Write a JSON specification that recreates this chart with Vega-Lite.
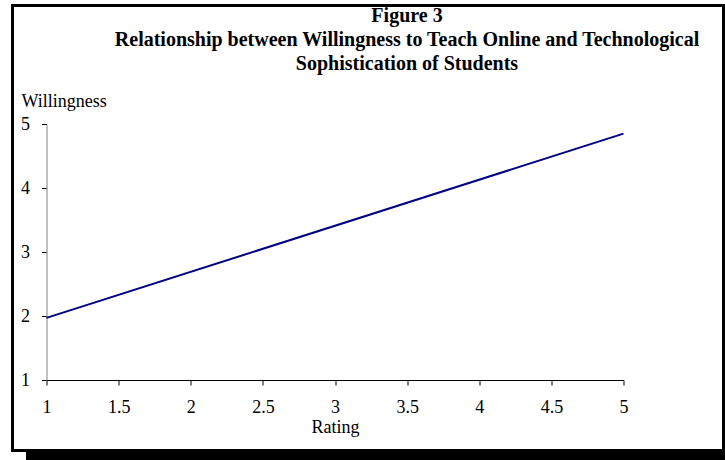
{
  "$schema": "https://vega.github.io/schema/vega-lite/v6.json",
  "width": 577,
  "height": 256,
  "autosize": {"type": "none"},
  "padding": {"left": 46.5, "top": 124, "right": 101.5, "bottom": 80},
  "background": "white",
  "config": {
    "view": {"stroke": null},
    "font": "Liberation Serif"
  },
  "title": {
    "text": [
      "Figure 3",
      "Relationship between Willingness to Teach Online and Technological",
      "Sophistication of Students"
    ],
    "font": "Liberation Serif",
    "fontSize": 20,
    "fontWeight": "bold",
    "color": "black",
    "lineHeight": 24,
    "anchor": "middle",
    "frame": "group",
    "dx": 72,
    "dy": 74
  },
  "layer": [
    {
      "data": {"values": [{"part": "frame"}]},
      "mark": {"type": "rect", "filled": false, "stroke": "black", "strokeWidth": 3},
      "encoding": {
        "x": {"value": -34},
        "x2": {"value": 677},
        "y": {"value": -118.5},
        "y2": {"value": 326.5}
      }
    },
    {
      "data": {"values": [{"part": "shadow"}]},
      "mark": {"type": "rect", "fill": "black"},
      "encoding": {
        "x": {"value": -20.5},
        "x2": {"value": 680},
        "y": {"value": 326},
        "y2": {"value": 337}
      }
    },
    {
      "data": {
        "values": [
          {"Rating": 1, "Willingness": 1.97},
          {"Rating": 5, "Willingness": 4.85}
        ]
      },
      "mark": {"type": "line", "color": "#000080", "strokeWidth": 2},
      "encoding": {
        "x": {
          "field": "Rating",
          "type": "quantitative",
          "scale": {"domain": [1, 5], "nice": false, "zero": false},
          "axis": {
            "title": "Rating",
            "values": [1, 1.5, 2, 2.5, 3, 3.5, 4, 4.5, 5],
            "format": "~g",
            "grid": false,
            "domainColor": "black",
            "tickColor": "black",
            "tickSize": 5,
            "labelFont": "Liberation Serif",
            "labelFontSize": 18,
            "labelColor": "black",
            "labelPadding": 13,
            "labelFlush": false,
            "titleFont": "Liberation Serif",
            "titleFontSize": 18,
            "titleFontWeight": "normal",
            "titleColor": "black",
            "titleBaseline": "alphabetic",
            "titleY": 52
          }
        },
        "y": {
          "field": "Willingness",
          "type": "quantitative",
          "scale": {"domain": [1, 5], "nice": false, "zero": false},
          "axis": {
            "title": "Willingness",
            "values": [1, 2, 3, 4, 5],
            "format": "~g",
            "grid": false,
            "domainColor": "#808080",
            "tickColor": "black",
            "tickSize": 5,
            "labelFont": "Liberation Serif",
            "labelFontSize": 18,
            "labelColor": "black",
            "labelPadding": 12,
            "labelFlush": false,
            "titleFont": "Liberation Serif",
            "titleFontSize": 18,
            "titleFontWeight": "normal",
            "titleColor": "black",
            "titleAngle": 0,
            "titleAlign": "left",
            "titleBaseline": "alphabetic",
            "titleX": -25.5,
            "titleY": -18
          }
        }
      }
    }
  ]
}
